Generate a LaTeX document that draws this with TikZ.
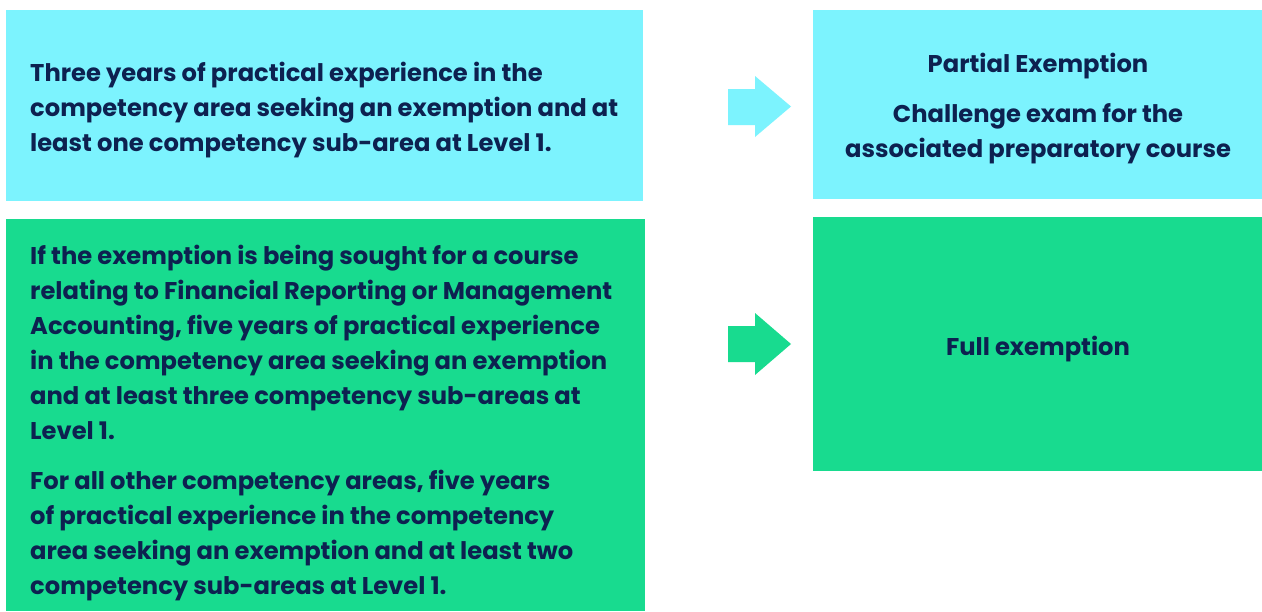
\documentclass[tikz,border=0pt]{standalone}
\usepackage{fontspec}
\setmainfont{Poppins}
\definecolor{cyanbox}{HTML}{7CF3FE}
\definecolor{greenbox}{HTML}{18DB8F}
\definecolor{navy}{HTML}{0D2150}
\begin{document}
\begin{tikzpicture}[x=1pt,y=-1pt,
  txt/.style={text=navy,font=\fontsize{24.2}{35}\selectfont\bfseries,inner sep=0pt},
  ]
\useasboundingbox[fill=white] (0,0) rectangle (1262,611);
% boxes
\fill[cyanbox] (6,10) rectangle (643,201);
\fill[greenbox] (6,219) rectangle (645,611);
\fill[cyanbox] (813,10) rectangle (1262,199);
\fill[greenbox] (813,217) rectangle (1262,471);
% arrows
\fill[cyanbox] (728,89) -- (755,89) -- (755,76) -- (791,106.5) -- (755,137) -- (755,125) -- (728,125) -- cycle;
\fill[greenbox] (728,326) -- (755,326) -- (755,313) -- (791,344) -- (755,375) -- (755,362) -- (728,362) -- cycle;
% texts (base anchor = baseline of last line)
\node[txt,anchor=base west,align=left] (t1) at (30,151) {Three years of practical experience in the\\competency area seeking an exemption and at\\least one competency sub-area at Level 1.};
\node[txt,anchor=base west,align=left] (t2) at (30,439) {If the exemption is being sought for a course\\relating to Financial Reporting or Management\\Accounting, five years of practical experience\\in the competency area seeking an exemption\\and at least three competency sub-areas at\\Level 1.};
\node[txt,anchor=base west,align=left] (t3) at (30,594) {For all other competency areas, five years\\of practical experience in the competency\\area seeking an exemption and at least two\\competency sub-areas at Level 1.};
\node[txt,anchor=base] (t4) at (1038,72) {Partial Exemption};
\node[txt,anchor=base,align=center] (t5) at (1038,157) {Challenge exam for the\\associated preparatory course};
\node[txt,anchor=base] (t6) at (1038,355) {Full exemption};
\end{tikzpicture}
\end{document}
